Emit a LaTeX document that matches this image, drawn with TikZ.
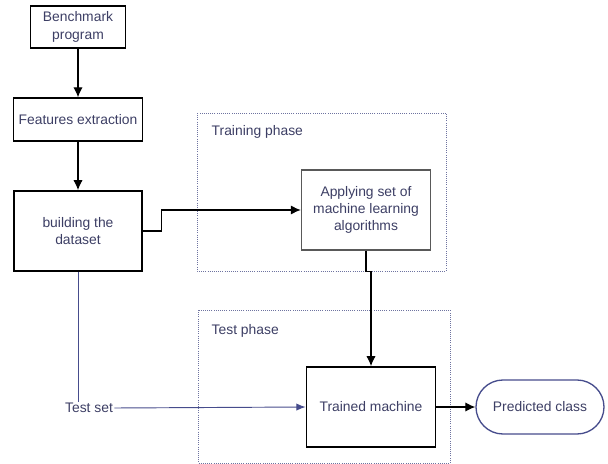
\documentclass[tikz,border=0pt]{standalone}
\usepackage{fontspec}
\setmainfont{Liberation Sans}
\usetikzlibrary{shapes,arrows.meta}
\definecolor{txt}{RGB}{60,62,100}
\definecolor{navy}{RGB}{70,76,140}
\definecolor{phase}{RGB}{110,115,160}

\tikzset{
  block/.style={draw=black,line width=1.3pt,align=center,text=txt,inner sep=2pt},
  thinblock/.style={draw=black,line width=1pt,align=center,text=txt,inner sep=2pt},
  greyblock/.style={draw=black!65,line width=1.1pt,align=center,text=txt,inner sep=2pt},
  endblock/.style={draw=navy,line width=1pt,rounded corners=27*0.75pt,align=center,text=txt},
  phasebox/.style={draw=phase,densely dotted,line width=0.6pt},
  link/.style={-{Latex[length=7.5pt,width=7pt]},line width=0.9pt},
  bluelink/.style={line width=0.7pt,draw=navy},
}

\begin{document}
\begin{tikzpicture}[x=0.75pt,y=-0.75pt,font=\fontsize{10.4}{13}\selectfont]
\useasboundingbox (0,0) rectangle (608,464);
% phases
\draw[phasebox] (197,113) rectangle (446,271);
\draw[phasebox] (198,310) rectangle (450,463);
\node[text=txt,anchor=west] (trainlbl) at (207,132) {Training phase};
\node[text=txt,anchor=west] (testlbl) at (207,331) {Test phase};
% blocks
\node[thinblock,minimum width=95*0.75pt,minimum height=42*0.75pt] (bench) at (78,27) {Benchmark\\program};
\node[thinblock,minimum width=129*0.75pt,minimum height=43*0.75pt] (feat) at (78,119.5) {Features extraction};
\node[block,minimum width=128*0.75pt,minimum height=80*0.75pt] (build) at (78,231) {building the\\dataset};
\node[greyblock,minimum width=129*0.75pt,minimum height=80*0.75pt] (apply) at (366,210) {Applying set of\\machine learning\\algorithms};
\node[block,minimum width=129*0.75pt,minimum height=80*0.75pt] (trained) at (371,407) {Trained machine};
\node[endblock,minimum width=128*0.75pt,minimum height=54*0.75pt] (pred) at (540,407) {Predicted class};
\node[text=txt,inner sep=1pt] (testset) at (89,408) {Test set};
% connectors
\draw[link] (bench) -- (feat);
\draw[link] (feat) -- (build);
\draw[link] (build.east) -- ++(19,0) |- (apply.west);
\draw[link] (apply.south) -- ++(0,21) -| (trained.north);
\draw[link] (trained) -- (pred);
\draw[bluelink] (build.south) -- (build.south |- testset.north);
\draw[bluelink,-{Latex[length=7pt,width=5.5pt]}] (testset.east) -- (trained.west);
\end{tikzpicture}
\end{document}
